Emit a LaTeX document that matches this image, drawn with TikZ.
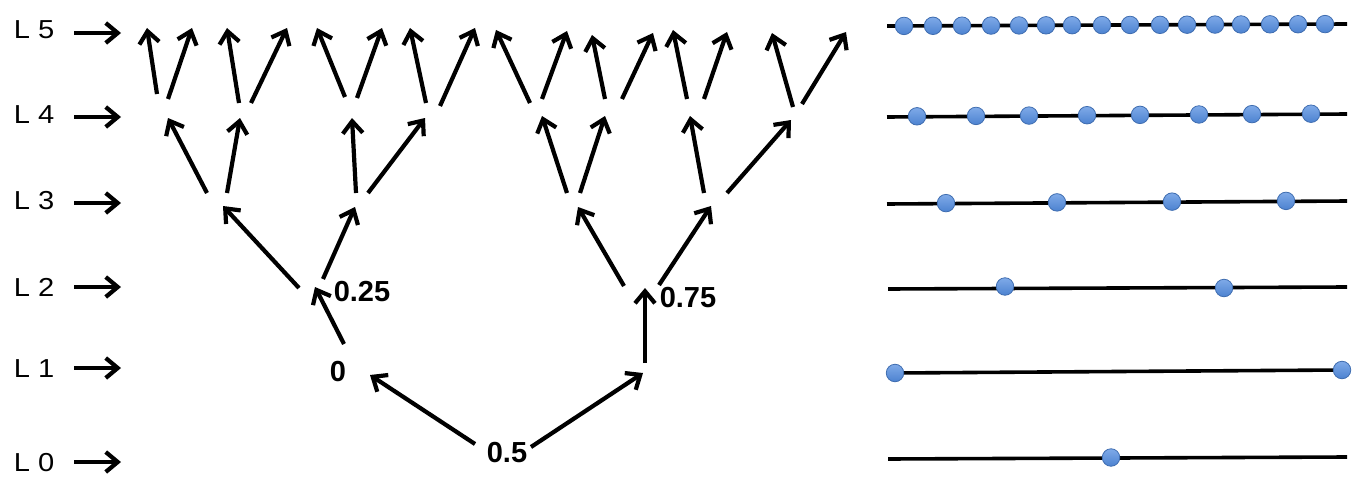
\documentclass[tikz,border=0pt]{standalone}
\usepackage{fontspec}
\setmainfont{Liberation Sans}
\usetikzlibrary{arrows.meta}
\definecolor{dottop}{HTML}{7FAAE8}
\definecolor{dotbot}{HTML}{4C82D0}
\definecolor{dotline}{HTML}{3F6DB0}
\begin{document}
\begin{tikzpicture}[x=1pt,y=-1pt,
  arr/.style={line width=4.2pt,-{Straight Barb[length=12pt,width=20pt]}},
  lvl/.style={font=\fontsize{26}{26}\selectfont,inner sep=0pt},
  num/.style={font=\fontsize{29}{29}\selectfont\bfseries,inner sep=0pt},
  axisline/.style={line width=3.6pt},
  dot/.style={circle,inner sep=0pt,minimum size=17.5pt,draw=dotline,line width=0.8pt,top color=dottop,bottom color=dotbot}]
\useasboundingbox (0,0) rectangle (1352,487);

% level labels and their arrows
\foreach \n/\ty/\ay in {5/30/33, 4/114.5/117, 3/201/203, 2/287/287, 1/368.5/368, 0/463/462}{
  \node[lvl] (lab\n) at (34,\ty) {\scalebox{1.12}[1]{L \n}};
  \coordinate (la\n) at (74,\ay);
  \coordinate (lb\n) at (121,\ay);
  \draw[arr] (la\n) -- (lb\n);
}

% number nodes
\node[num] (n0)   at (338,372) {0};
\node[num] (n025) at (362,292) {0.25};
\node[num] (n075) at (688,298) {0.75};
\node[num] (n05)  at (507,453) {0.5};

% tree arrows: tail / tip
\foreach \i/\ax/\ay/\bx/\by in {
  A/475/444/370/375, B/531/447/643/373,
  C/344/344/315/287, D/645/363/645/288,
  E/299/288/223/206, F/323/279/355/207, G/624/286/578/207, H/659/285/711/206,
  I/207/193/168/118, J/227/193/240/118, K/356/193/352/118, L/368/193/425/118,
  M/567/193/542/116, N/580/193/605/116, O/704/193/690/116, P/727/193/791/120,
  Q1/157/94/147/28,  Q2/168/99/192/28,  Q3/239/103/227/28, Q4/251/103/287/28,
  Q5/345/97/317/28,  Q6/357/98/382/28,  Q7/426/103/410/28, Q8/440/106/475/28,
  Q9/530/103/496/30, Q10/542/99/567/31, Q11/605/99/592/35, Q12/622/99/653/33,
  Q13/687/99/673/30, Q14/704/99/727/32, Q15/793/107/772/33, Q16/802/104/846/32}{
  \coordinate (t\i) at (\ax,\ay);
  \coordinate (h\i) at (\bx,\by);
  \draw[arr] (t\i) -- (h\i);
}

% number lines
\coordinate (s5) at (887,26);  \coordinate (e5) at (1347,24);
\coordinate (s4) at (887,117); \coordinate (e4) at (1347,114);
\coordinate (s3) at (887,204); \coordinate (e3) at (1347,201);
\coordinate (s2) at (888,289); \coordinate (e2) at (1347,287);
\coordinate (s0) at (888,459); \coordinate (e0) at (1347,457);
\foreach \k in {5,4,3,2,0}{ \draw[axisline] (s\k) -- (e\k); }
\draw[axisline] (895,373) coordinate (s1) -- (1342,370) coordinate (e1);

% dots
\foreach \x [count=\i] in {904,933,962,991,1019,1046,1072,1102,1130,1160,1187,1215,1241,1270,1298,1325}{
  \node[dot] (d5-\i) at (\x,{26-2*(\x-887)/460}) {};
}
\foreach \x [count=\i] in {917,976,1029,1087,1140,1199,1252,1311}{
  \node[dot] (d4-\i) at (\x,{116.5-3*(\x-887)/460}) {};
}
\foreach \x [count=\i] in {946,1057,1172,1286}{
  \node[dot] (d3-\i) at (\x,{203.5-3*(\x-887)/460}) {};
}
\node[dot] (d2-1) at (1005,286.5) {};
\node[dot] (d2-2) at (1224,288) {};
\node[dot] (d1-1) at (s1) {};
\node[dot] (d1-2) at (e1) {};
\node[dot] (d0-1) at (1111,457.5) {};
\end{tikzpicture}
\end{document}
